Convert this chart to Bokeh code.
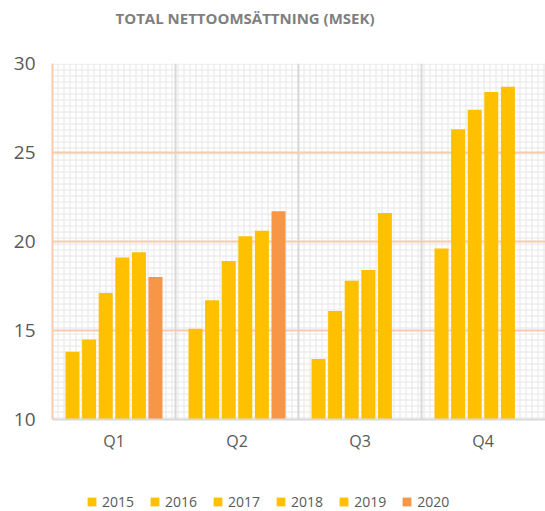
from bokeh.plotting import figure
from bokeh.layouts import column
from bokeh.models import Range1d, FixedTicker, BoxAnnotation, Legend, LegendItem, ColumnDataSource
from bokeh.embed import file_html
from bokeh.resources import INLINE

quarters = ["Q1", "Q2", "Q3", "Q4"]
years = ["2015", "2016", "2017", "2018", "2019", "2020"]
v2015 = [13.8, 15.1, 13.4, 19.6]
v2016 = [14.5, 16.7, 16.1, 26.3]
v2017 = [17.1, 18.9, 17.8, 27.4]
v2018 = [19.1, 20.3, 18.4, 28.4]
v2019 = [19.4, 20.6, 21.6, 28.7]
v2020 = [18.0, 21.7, float("nan"), float("nan")]
series = [v2015, v2016, v2017, v2018, v2019, v2020]
colors = ["#FFC000", "#FFC000", "#FFC000", "#FFC000", "#FFC000", "#F79646"]

p = figure(frame_width=493, frame_height=356, output_backend="svg", toolbar_location=None,
           x_range=Range1d(0, 493 / 123), y_range=Range1d(10, 30),
           min_border_left=52, min_border_right=0, min_border_top=63, min_border_bottom=62)
p.outline_line_color = None
p.background_fill_color = "white"

# background fine pattern
bg = BoxAnnotation(left=0, right=4.1, bottom=10, top=30, fill_alpha=0, line_alpha=0,
                   hatch_pattern="+", hatch_color="#E6E6E6", hatch_weight=1, hatch_scale=6,
                   level="image")
p.add_layout(bg)

# legend strip (separate small plot below the chart)
p2 = figure(width=545, height=30, output_backend="svg", toolbar_location=None,
            x_range=Range1d(100, 101), y_range=Range1d(100, 101),
            min_border_left=0, min_border_right=0, min_border_top=0, min_border_bottom=0)
p2.axis.visible = False
p2.grid.visible = False
p2.outline_line_color = None

step = 16.6 / 123
bw = 14 / 123
items = []
for j, (yr, vals, c) in enumerate(zip(years, series, colors)):
    xs = [i + 0.5 + (j - 2.5) * step for i in range(len(quarters))]
    src = ColumnDataSource(dict(x=xs, top=vals))
    p.vbar(x="x", top="top", bottom=10, width=bw, source=src, fill_color=c, line_color=None)
    r = p2.vbar(x="x", top="top", bottom=10, width=bw, source=src, fill_color=c, line_color=None)
    items.append(LegendItem(label=yr, renderers=[r]))

# axes
p.xaxis.ticker = FixedTicker(ticks=[0.5, 1.5, 2.5, 3.5])
p.xaxis.major_label_overrides = {0.5 + i: q for i, q in enumerate(quarters)}
p.xaxis.major_tick_line_color = None
p.xaxis.major_tick_out = 0
p.xaxis.minor_tick_line_color = None
p.xaxis.axis_line_color = "#D9D9D9"
p.xaxis.axis_line_width = 2
p.xaxis.major_label_text_font = "Open Sans"
p.xaxis.major_label_text_font_size = "16px"
p.xaxis.major_label_text_color = "#595959"
p.xaxis.major_label_standoff = 10

p.yaxis.ticker = FixedTicker(ticks=[10, 15, 20, 25, 30])
p.yaxis.major_tick_line_color = None
p.yaxis.major_tick_out = 0
p.yaxis.minor_tick_line_color = None
p.yaxis.axis_line_color = "#F8CBAD"
p.yaxis.axis_line_width = 2
p.yaxis.major_label_text_font = "Open Sans"
p.yaxis.major_label_text_font_size = "19px"
p.yaxis.major_label_text_color = "#595959"
p.yaxis.major_label_standoff = 17

p.xgrid.ticker = FixedTicker(ticks=[1, 2, 3])
p.xgrid.grid_line_color = "#D9D9D9"
p.xgrid.grid_line_width = 2
p.ygrid.ticker = FixedTicker(ticks=[15, 20, 25, 30])
p.ygrid.grid_line_color = "#F8CBAD"
p.ygrid.grid_line_width = 2

# title
p.title.text = "TOTAL NETTOOMSÄTTNING (MSEK)"
p.title.text_font = "Open Sans"
p.title.text_font_style = "bold"
p.title.text_font_size = "15px"
p.title.text_color = "#7F7F7F"
p.title.align = "left"
p.title.offset = 63
p.title.padding = dict(left=0, right=0, top=0, bottom=31)

legend = Legend(items=items, orientation="horizontal", location=(34, 0),
                glyph_width=11, glyph_height=11, label_standoff=5, spacing=15,
                label_height=12,
                label_text_font="Open Sans", label_text_font_size="14px",
                label_text_color="#595959", border_line_color=None,
                background_fill_alpha=0, padding=0, margin=0)
p2.add_layout(legend, "center")

layout = column(p, p2, spacing=0)
open("out.html", "w").write(file_html(layout, INLINE))
